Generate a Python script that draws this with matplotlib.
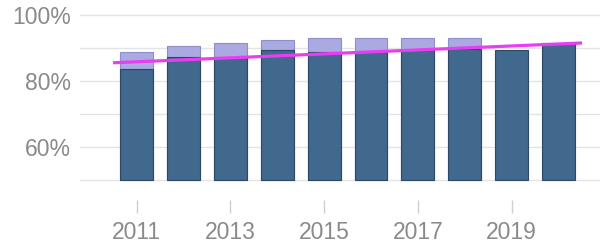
import numpy as np
import matplotlib.pyplot as plt

years = [2011, 2012, 2013, 2014, 2015, 2016, 2017, 2018, 2019, 2020]
upper = [88.8, 90.6, 91.5, 92.4, 92.9, 92.9, 92.9, 92.9, np.nan, np.nan]
lower = [83.6, 87.3, 87.0, 89.4, 88.8, 88.8, 89.4, 89.6, 89.4, 91.5]
trend_x = [2010.5, 2020.5]
trend_y = [85.5, 91.5]
xtick_years = [2011, 2013, 2015, 2017, 2019]

base = 50
plt.rcParams['font.family'] = ['Liberation Sans', 'DejaVu Sans']

fig = plt.figure(figsize=(6.02, 2.46), dpi=100)
ax = fig.add_axes([80/602, 46/246, 520/602, 190/246])

up = np.array(upper) - base
lo = np.array(lower) - base
ax.bar(years, up, bottom=base, width=0.7, color='#aaa9e2', edgecolor='#8f8ec8', linewidth=0.8, zorder=2)
ax.bar(years, lo, bottom=base, width=0.7, color='#41688d', edgecolor='#2c4866', linewidth=0.8, zorder=3)
ax.plot(trend_x, trend_y, color='#e53ff0', lw=2.3, zorder=4, solid_capstyle='butt')

ax.set_xlim(2009.795, 2020.883)
ax.set_ylim(43.9, 101.5)
ax.set_yticks([60, 80, 100])
ax.set_yticklabels(['60%', '80%', '100%'])
ax.set_yticks([50, 70, 90], minor=True)
ax.grid(axis='y', which='both', color='#e4e4e4', lw=1, zorder=0)
ax.set_axisbelow(True)
ax.set_xticks(xtick_years)
ax.set_xticklabels([str(y) for y in xtick_years])
ax.tick_params(axis='y', which='both', length=0, pad=6.5, labelsize=16.5, labelcolor='#8a8a8a')
ax.tick_params(axis='x', length=9, width=1, color='#d0d0d0', pad=6, labelsize=16.5, labelcolor='#8a8a8a')
for s in ax.spines.values():
    s.set_visible(False)

fig.savefig('out.png', dpi=100)
